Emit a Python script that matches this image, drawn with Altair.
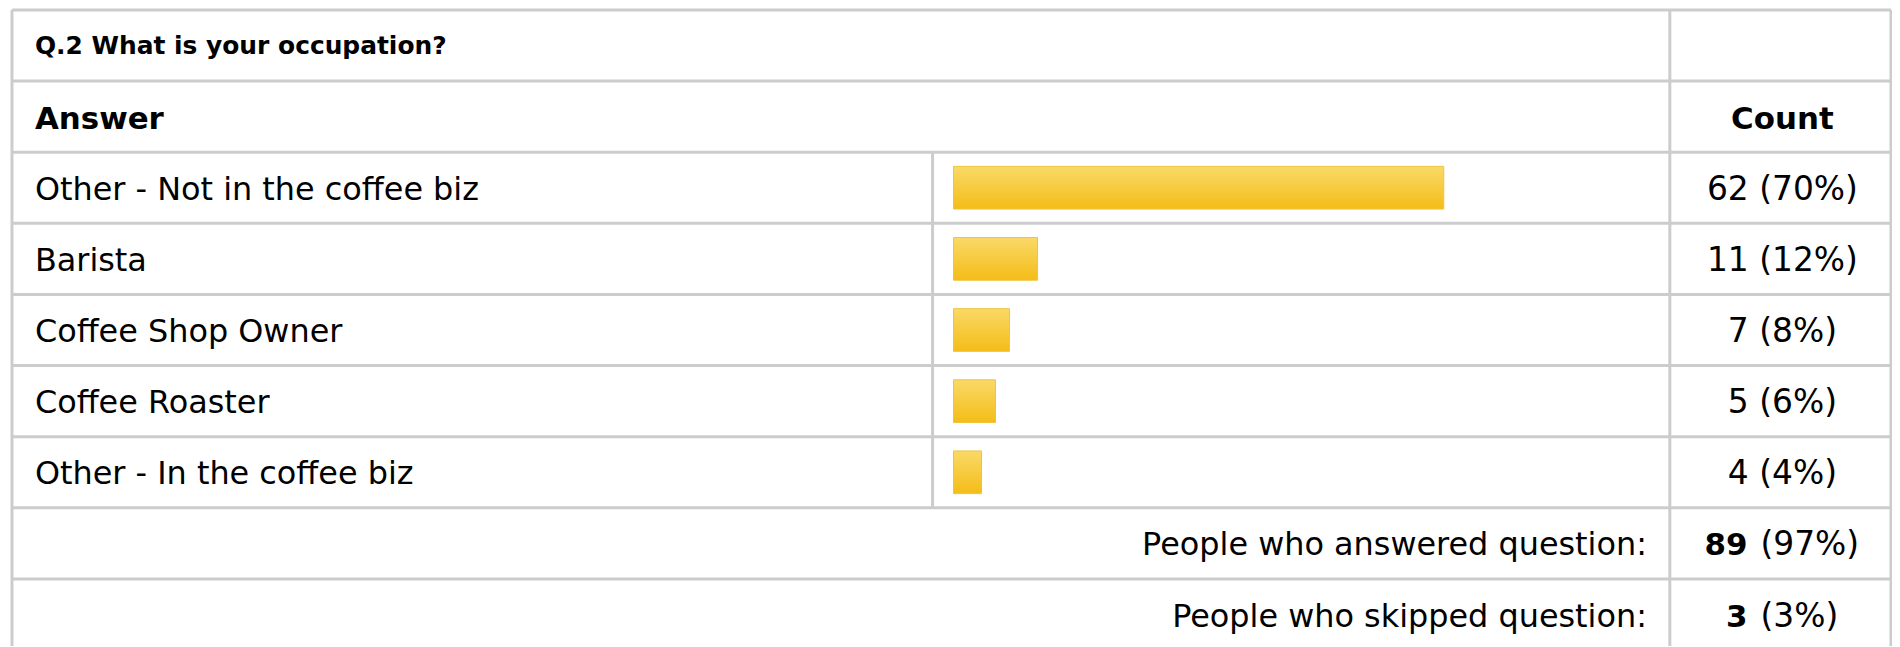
import altair as alt
import pandas as pd

# ---- data ----
question = "Q.2 What is your occupation?"
header_answer = "Answer"
header_count = "Count"
answers = [
    "Other - Not in the coffee biz",
    "Barista",
    "Coffee Shop Owner",
    "Coffee Roaster",
    "Other - In the coffee biz",
]
counts = [62, 11, 7, 5, 4]
percents = [70, 12, 8, 6, 4]
summary_labels = ["People who answered question:", "People who skipped question:"]
summary_counts = [89, 3]
summary_percents = [97, 3]

# ---- layout ----
FONT = "DejaVu Sans"
W = 1886
H = 638
ROW_H = 71.4
LINE = "#cccccc"
X_LABEL = 23
X_BAR_SEP = 924
X_COUNT_SEP = 1664
X_COUNT_MID = 1777
X_SUMMARY_RIGHT = 1641
X_BOLD_RIGHT = 1742
X_REST_LEFT = 1755

ys = alt.Scale(domain=[-0.01, H / ROW_H - 0.01], nice=False, zero=False, reverse=True)

answer_rows = list(range(2, 2 + len(answers)))
rows_df = pd.DataFrame({
    "row": answer_rows,
    "answer": answers,
    "count": counts,
    "pct": percents,
})
rows_df["count_text"] = [f"{c} ({p}%)" for c, p in zip(counts, percents)]

n_rows = 2 + len(answers) + len(summary_labels)
hlines = alt.Chart(pd.DataFrame({"b": list(range(n_rows + 1))})).mark_rule(
    color=LINE, strokeWidth=3
).encode(
    y=alt.Y("b:Q", scale=ys, axis=None),
    x=alt.value(0),
    x2=alt.value(W),
)


def vline(px, r0, r1):
    return alt.Chart(pd.DataFrame({"r0": [r0], "r1": [r1]})).mark_rule(
        color=LINE, strokeWidth=3
    ).encode(
        x=alt.value(px),
        y=alt.Y("r0:Q", scale=ys, axis=None),
        y2="r1:Q",
    )


vlines = [
    vline(0, 0, n_rows),
    vline(X_COUNT_SEP, 0, n_rows),
    vline(W, 0, n_rows),
    vline(X_BAR_SEP, 2, 2 + len(answers)),
]

grad = alt.Gradient(
    gradient="linear",
    stops=[
        alt.GradientStop(color="#fad968", offset=0),
        alt.GradientStop(color="#f4bd17", offset=1),
    ],
    x1=0, x2=0, y1=0, y2=1,
)

bars = alt.Chart(rows_df).transform_calculate(
    top="datum.row + 0.2", bot="datum.row + 0.8", zero="0"
).mark_bar(color=grad, stroke="#efc43c", strokeWidth=1).encode(
    x=alt.X("pct:Q", scale=alt.Scale(domain=[0, 100], range=[945, 1648], nice=False, zero=False), axis=None),
    x2="zero:Q",
    y=alt.Y("top:Q", scale=ys, axis=None),
    y2="bot:Q",
)


def text_layer(df, field, x, align, size, bold, dy):
    return alt.Chart(df).transform_calculate(mid="datum.row + 0.5").mark_text(
        align=align, baseline="alphabetic", dy=dy, font=FONT, fontSize=size,
        fontWeight="bold" if bold else "normal", color="#000000",
    ).encode(
        x=alt.value(x),
        y=alt.Y("mid:Q", scale=ys, axis=None),
        text=f"{field}:N",
    )


title_df = pd.DataFrame({"row": [0], "t": [question]})
head_a = pd.DataFrame({"row": [1], "t": [header_answer]})
head_c = pd.DataFrame({"row": [1], "t": [header_count]})
sum_rows = list(range(2 + len(answers), n_rows))
sum_df = pd.DataFrame({
    "row": sum_rows,
    "label": summary_labels,
    "bold": [str(c) for c in summary_counts],
    "rest": [f"({p}%)" for p in summary_percents],
})

layers = [hlines] + vlines + [
    bars,
    text_layer(title_df, "t", X_LABEL, "left", 25, True, 9),
    text_layer(head_a, "t", X_LABEL, "left", 31, True, 12),
    text_layer(head_c, "t", X_COUNT_MID, "center", 31, True, 12),
    text_layer(rows_df, "answer", X_LABEL, "left", 32, False, 12),
    text_layer(rows_df, "count_text", X_COUNT_MID, "center", 33, False, 12),
    text_layer(sum_df, "label", X_SUMMARY_RIGHT, "right", 32, False, 12),
    text_layer(sum_df, "bold", X_BOLD_RIGHT, "right", 31, True, 12),
    text_layer(sum_df, "rest", X_REST_LEFT, "left", 33, False, 12),
]

chart = alt.layer(*layers).properties(
    width=W,
    height=H,
    padding={"left": 4, "top": 0, "right": 1, "bottom": 0},
    autosize="none",
    background="white",
).configure_view(stroke=None)

chart.save("out.html", embed_options={"renderer": "svg", "actions": False})
